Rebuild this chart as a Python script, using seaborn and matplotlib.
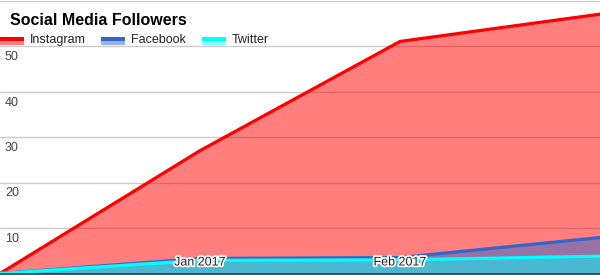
import matplotlib
matplotlib.use("Agg")
import matplotlib.pyplot as plt
import matplotlib.patheffects as pe
from matplotlib.patches import Rectangle
import seaborn as sns
import pandas as pd
import numpy as np

months = ["Dec 2016", "Jan 2017", "Feb 2017", "Mar 2017"]
x_tick_labels = ["", "Jan 2017", "Feb 2017", ""]
instagram = [0, 27, 51, 57]
facebook = [0, 3.3, 3.5, 7.9]
twitter = [0, 2.9, 3.0, 3.8]
series_names = ["Instagram", "Facebook", "Twitter"]
colors = ["#FF0000", "#3366CC", "#00FFFF"]
y_ticks = [10, 20, 30, 40, 50, 60]

sns.set_theme(style="white")
plt.rcParams["font.family"] = ["Liberation Sans", "DejaVu Sans"]

W, H = 600, 275
fig = plt.figure(figsize=(W / 100, H / 100), dpi=100)
ax = fig.add_axes([0, 1.5 / H, 1, 273 / H])

xs = np.arange(len(months))
df = pd.DataFrame({
    "x": np.tile(xs, 3),
    "value": instagram + facebook + twitter,
    "series": np.repeat(series_names, len(months)),
})

data = {"Instagram": instagram, "Facebook": facebook, "Twitter": twitter}
for i, name in enumerate(series_names):
    ax.fill_between(xs, 0, data[name], color=colors[i], alpha=0.5, lw=0, zorder=1 + i)
    sub = df[df.series == name]
    sns.lineplot(data=sub, x="x", y="value", color=colors[i], lw=2.3, ax=ax,
                 zorder=1.5 + i, legend=False)

ax.set_xlim(xs[0], xs[-1])
ax.set_ylim(0, 60)
ax.set_yticks(y_ticks)
ax.set_xticks([])
ax.set_yticklabels([])
ax.tick_params(left=False, bottom=False)
ax.set_xlabel("")
ax.set_ylabel("")
ax.grid(axis="y", color="#cccccc", lw=1)
ax.set_axisbelow(True)
for s in ["left", "right", "top"]:
    ax.spines[s].set_visible(False)
ax.spines["bottom"].set_color("#333333")
ax.spines["bottom"].set_linewidth(1.2)
ax.spines["bottom"].set_zorder(10)

# y labels (inside, below gridlines)
for v in y_ticks[:-1]:
    ax.annotate(str(v), xy=(0, v), xycoords=("axes fraction", "data"),
                xytext=(5, -5), textcoords="offset pixels", ha="left", va="top",
                fontsize=9, color="#444444", zorder=20)

# x labels (inside, above axis line) with white halo
for xi, lab in zip(xs, x_tick_labels):
    if lab:
        t = ax.annotate(lab, xy=(xi, 0), xycoords=("data", "axes fraction"),
                        xytext=(0, 11), textcoords="offset pixels", ha="center",
                        va="center", fontsize=9, color="#222222", zorder=20)
        t.set_path_effects([pe.withStroke(linewidth=2.5, foreground="white")])

# title
fig.text(10 / W, 1 - 25 / H, "Social Media Followers", fontsize=11.5, fontweight="bold",
         color="#000000", ha="left", va="baseline")

# legend
leg_x = [0, 101, 202]
for i, name in enumerate(series_names):
    x0 = leg_x[i]
    fig.add_artist(Rectangle((x0 / W, 1 - 41 / H), 24 / W, 4 / H, transform=fig.transFigure,
                             facecolor=colors[i], edgecolor="none"))
    fig.add_artist(Rectangle((x0 / W, 1 - 45 / H), 24 / W, 4 / H, transform=fig.transFigure,
                             facecolor=colors[i], alpha=0.5, edgecolor="none"))
    fig.text((x0 + 30) / W, 1 - 40 / H, name, fontsize=9, color="#222222",
             ha="left", va="center")

fig.savefig("out.png", dpi=100)
